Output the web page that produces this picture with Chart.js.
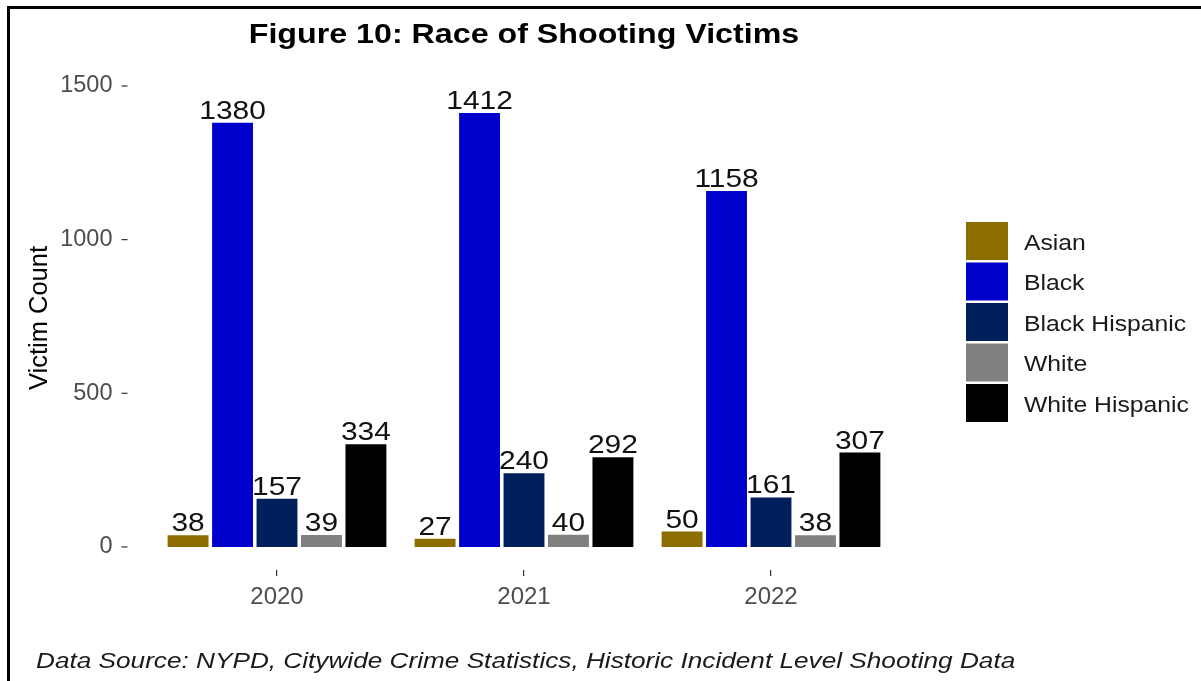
<!DOCTYPE html>
<html>
<head>
<meta charset="utf-8">
<title>Race of Shooting Victims</title>
<script src="https://cdn.jsdelivr.net/npm/chart.js@4.4.0/dist/chart.umd.min.js"></script>
<style>
    html, body { margin: 0; padding: 0; background: #fff; }
    #wrap { position: relative; width: 1201px; height: 681px; overflow: hidden; }
    #frame { position: absolute; left: 7px; top: 6px; width: 1300px; height: 800px;
             border: 3px solid #000; box-sizing: border-box; pointer-events: none; }
    canvas { position: absolute; left: 0; top: 0; }
</style>
</head>
<body>
<div id="wrap">
    <canvas id="raceChart" width="1201" height="681"></canvas>
    <div id="frame"></div>
</div>
<script>
// Chart data
const years = ['2020', '2021', '2022'];
const races = ['Asian', 'Black', 'Black Hispanic', 'White', 'White Hispanic'];
const asianCounts = [38, 27, 50];
const blackCounts = [1380, 1412, 1158];
const blackHispanicCounts = [157, 240, 161];
const whiteCounts = [39, 40, 38];
const whiteHispanicCounts = [334, 292, 307];
const yTickValues = [0, 500, 1000, 1500];

const raceColors = ['#8c6d00', '#0000cd', '#001f5b', '#808080', '#000000'];
const seriesValues = [asianCounts, blackCounts, blackHispanicCounts, whiteCounts, whiteHispanicCounts];

const FONT = "'Liberation Sans', Arial, sans-serif";
// the source image is a little wider than tall, so text is stretched slightly
const TEXT_STRETCH = 1.15;

function drawText(ctx, text, x, y, font, align, stretch = TEXT_STRETCH) {
    ctx.save();
    ctx.font = font;
    ctx.textAlign = align;
    ctx.translate(x, y);
    ctx.scale(stretch, 1);
    ctx.fillText(text, 0, 0);
    ctx.restore();
}

// Title, tick marks, value labels, legend and caption
const overlayPlugin = {
    id: 'overlay',
    afterDraw(chart) {
        const ctx = chart.ctx;
        const area = chart.chartArea;
        const yScale = chart.scales.y;
        ctx.save();

        // title
        ctx.fillStyle = '#000';
        ctx.textBaseline = 'middle';
        drawText(ctx, 'Figure 10: Race of Shooting Victims', (area.left + area.right) / 2, 35,
                 'bold 28px ' + FONT, 'center');

        // y axis title
        ctx.save();
        ctx.translate(40, (area.top + area.bottom) / 2);
        ctx.rotate(-Math.PI / 2);
        ctx.font = '25.5px ' + FONT;
        ctx.textAlign = 'center';
        ctx.fillText('Victim Count', 0, 0);
        ctx.restore();

        // y tick marks (ggplot style, detached from the bars)
        ctx.strokeStyle = '#333';
        ctx.lineWidth = 1.2;
        yTickValues.forEach(v => {
            const y = yScale.getPixelForValue(v);
            ctx.beginPath();
            ctx.moveTo(area.left - 32, y);
            ctx.lineTo(area.left - 26, y);
            ctx.stroke();
        });

        // value labels
        ctx.fillStyle = '#111';
        ctx.textBaseline = 'alphabetic';
        chart.data.datasets.forEach((ds, i) => {
            chart.getDatasetMeta(i).data.forEach((bar, j) => {
                drawText(ctx, String(ds.data[j]), bar.x, bar.y - 4, '26px ' + FONT, 'center');
            });
        });

        // legend
        const lx = 966, ly = 222, row = 40.5;
        ctx.textBaseline = 'middle';
        chart.data.datasets.forEach((ds, i) => {
            const top = ly + i * row;
            ctx.fillStyle = ds.backgroundColor;
            ctx.fillRect(lx, top, 42, 38);
            ctx.fillStyle = '#1a1a1a';
            drawText(ctx, ds.label, lx + 58, top + 22, '21.5px ' + FONT, 'left');
        });

        // caption
        ctx.fillStyle = '#1a1a1a';
        drawText(ctx, 'Data Source: NYPD, Citywide Crime Statistics, Historic Incident Level Shooting Data',
                 36, 662, 'italic 22px ' + FONT, 'left', 1.19);

        ctx.restore();
    }
};

const ctx = document.getElementById('raceChart').getContext('2d');
const raceChart = new Chart(ctx, {
    type: 'bar',
    data: {
        labels: years,
        datasets: races.map((race, i) => ({
            label: race,
            data: seriesValues[i],
            backgroundColor: raceColors[i],
            borderWidth: 0,
            categoryPercentage: 0.9,
            barPercentage: 0.92
        }))
    },
    options: {
        responsive: false,
        animation: false,
        layout: {
            padding: { top: 66, left: 53.5, right: 306.5, bottom: 51 }
        },
        plugins: {
            legend: { display: false },
            title: { display: false },
            tooltip: { enabled: false }
        },
        scales: {
            x: {
                grid: {
                    display: true,
                    drawOnChartArea: false,
                    drawTicks: true,
                    tickLength: 6,
                    offset: false,
                    color: '#333',
                    lineWidth: 1.2
                },
                border: { display: false },
                ticks: {
                    color: '#4d4d4d',
                    font: { family: FONT, size: 24 },
                    padding: 7
                },
                afterFit: scale => { scale.height = 60; }
            },
            y: {
                min: -75,
                max: 1565,
                grid: { display: false, drawTicks: false },
                border: { display: false },
                ticks: {
                    color: '#4d4d4d',
                    font: { family: FONT, size: 23.5 },
                    padding: 41,
                    callback: value => String(value)
                },
                afterBuildTicks: scale => {
                    scale.ticks = yTickValues.map(v => ({ value: v }));
                },
                afterFit: scale => { scale.width = 100; }
            }
        }
    },
    plugins: [overlayPlugin]
});
</script>
</body>
</html>
